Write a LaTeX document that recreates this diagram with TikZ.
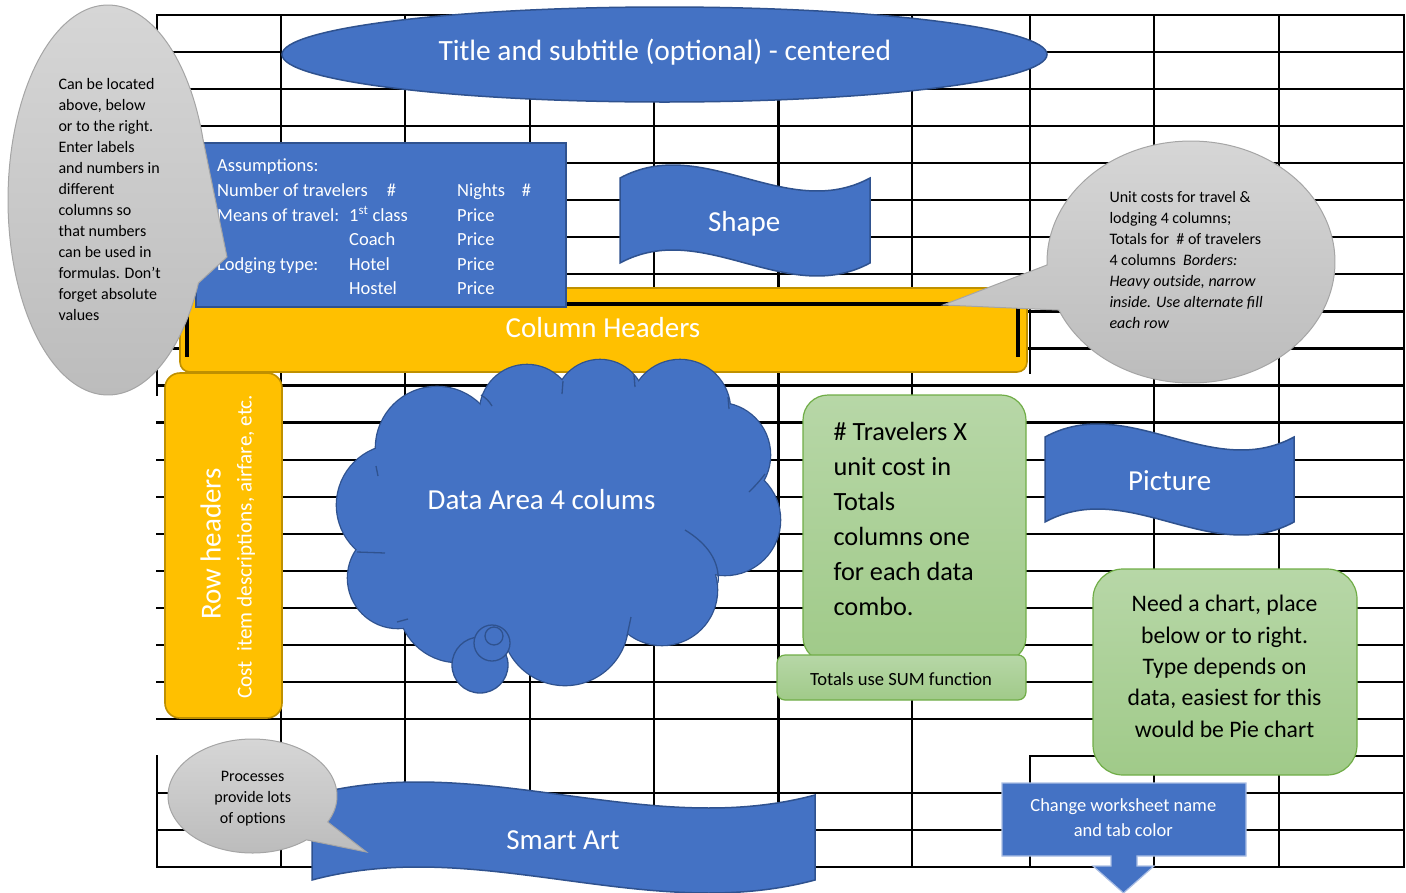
\documentclass[tikz,border=0pt]{standalone}
\usepackage{fontspec}
\setmainfont{Carlito}
\usetikzlibrary{shapes.geometric}
\definecolor{oblue}{RGB}{68,114,196}
\definecolor{oblueD}{RGB}{47,82,143}
\definecolor{oblueL}{RGB}{170,190,228}
\definecolor{oyel}{RGB}{255,192,0}
\definecolor{oyelD}{RGB}{191,144,0}
\definecolor{ogrT}{RGB}{183,215,167}
\definecolor{ogrB}{RGB}{160,202,137}
\definecolor{ogrD}{RGB}{112,173,71}
\definecolor{ogyT}{RGB}{214,214,214}
\definecolor{ogyB}{RGB}{188,188,188}
\definecolor{ogyD}{RGB}{165,165,165}
\newcommand{\fs}[2]{\fontsize{#1}{#2}\selectfont}
\begin{document}
\begin{tikzpicture}[x=1pt,y=-1pt,
  gridline/.style={line width=2.2pt, black, line cap=rect},
  bluefill/.style={fill=oblue, draw=oblueD, line width=1.5pt},
  yelbox/.style={fill=oyel, draw=oyelD, line width=1.6pt},
  greenbox/.style={top color=ogrT, bottom color=ogrB, draw=ogrD, line width=1.2pt},
  greycall/.style={top color=ogyT, bottom color=ogyB, draw=ogyD, line width=1pt},
  lbl/.style={inner sep=0pt, anchor=base},
  lblw/.style={inner sep=0pt, anchor=base west, text=white, font=\fs{18.5}{24.5}},
  biglbl/.style={lbl, text=white, font=\fs{29}{35}}]
\useasboundingbox (0,0) rectangle (1406,892);
% ---------- spreadsheet grid ----------
\foreach \k in {0,...,19,21,22,23}
  \draw[gridline] (157,{15+37.05*\k}) -- (1404,{15+37.05*\k});
\draw[gridline] (1030,756) -- (1404,756);
\foreach \x in {281,405,530,654,778.5,912,1154,1279,1404}
  \draw[gridline] (\x,15) -- (\x,867.2);
\draw[gridline] (157,15) -- (157,395);
\draw[gridline] (157,756) -- (157,867.2);
\draw[gridline] (1030,15) -- (1030,373);
\draw[gridline] (1030,756) -- (1030,867.2);
% ---------- title ----------
\node[ellipse, bluefill, minimum width=765pt, minimum height=95pt, inner sep=0pt] (title) at (664.5,54.5) {};
\node[lbl, text=white, font=\fs{29.4}{35}] (titleT) at (664.8,60.7) {Title and subtitle (optional) - centered};
% ---------- column headers bar ----------
\draw[yelbox, rounded corners=10pt] (180,288) rectangle (1027,372);
\coordinate (barTL) at (565,304);
\coordinate (barTR) at (1018,304);
\draw[line width=4.5pt] (barTL) -- (barTR) -- (1018,357);
\draw[line width=4pt] (187,306) -- (187,357);
\node[biglbl] (colh) at (603,337.3) {Column Headers};
% ---------- assumptions box ----------
\node[bluefill, minimum width=370pt, minimum height=164pt, inner sep=0pt, anchor=north west] (assum) at (195,142) {};
\node[lblw] (a1) at (217,171) {Assumptions:};
\node[lblw] (a2) at (217,196) {Number of travelers};
\node[lblw] (a2b) at (386.7,196) {\#};
\node[lblw] (a2c) at (457,196) {Nights};
\node[lblw] (a2d) at (521.7,196) {\#};
\node[lblw] (a3) at (217,221) {Means of travel:};
\node[lblw] (a3b) at (349,221) {1\textsuperscript{st} class};
\node[lblw] (a3c) at (457,221) {Price};
\node[lblw] (a4b) at (349,245) {Coach};
\node[lblw] (a4c) at (457,245) {Price};
\node[lblw] (a5) at (217,270) {Lodging type:};
\node[lblw] (a5b) at (349,270) {Hotel};
\node[lblw] (a5c) at (457,270) {Price};
\node[lblw] (a6b) at (349,294) {Hostel};
\node[lblw] (a6c) at (457,294) {Price};
% ---------- left callout ----------
\coordinate (lctip) at (227,257);
\draw[greycall] (lctip) -- plot[domain=25.2:342.1, samples=140] ({108+100*cos(\x)},{200+195*sin(\x)}) -- cycle;
\node[inner sep=0pt, anchor=base west] (lctext) at (58.3,89.3) {\parbox[t]{150pt}{\raggedright\fs{16}{21}Can be located\\above, below\\or to the right.\\Enter labels\\and numbers in\\different\\columns so\\that numbers\\can be used in\\formulas. Don’t\\forget absolute\\values}};
% ---------- shape banner ----------
\draw[bluefill] (620,178) .. controls (703.3,133) and (786.7,223) .. (870,178) -- (870,263) .. controls (786.7,308) and (703.3,218) .. (620,263) -- cycle;
\node[biglbl] (shapeT) at (744.2,231.7) {Shape};
% ---------- right callout ----------
\coordinate (rctip) at (943,305);
\draw[greycall] (rctip) -- plot[domain=178.6:516.6, samples=160] ({1191+144*cos(\x)},{262+121*sin(\x)}) -- cycle;
\node[inner sep=0pt, anchor=base west] (rctext) at (1109.3,202.7) {\parbox[t]{200pt}{\raggedright\fs{16}{20.9}Unit costs for travel \&\\lodging 4 columns;\\Totals for\ \ \# of travelers\\4 columns\ \ {\itshape Borders:}\\{\itshape Heavy outside, narrow}\\{\itshape inside. Use alternate fill}\\{\itshape each row}}};
% ---------- row headers ----------
\draw[yelbox, rounded corners=15pt] (165,373) rectangle (282,718);
\node[lbl, rotate=90, text=white, font=\fs{29}{35}] (rh1) at (220.5,544) {Row headers};
\node[lbl, rotate=90, text=white, font=\fs{21.2}{25}] (rh2) at (251.5,546.7) {Cost\ \ item descriptions, airfare, etc.};
% ---------- cloud ----------
\foreach \cx/\cy/\r in {437/448/61, 527/412/47, 600/405/45, 680/410/50, 718/455/52, 725/520/55, 662/590/55, 565/622/63, 458/602/60, 398/578/50, 397/505/60}
  \draw[draw=oblueD, line width=2.6pt, fill=oblue] (\cx,\cy) circle [radius=\r];
\foreach \cx/\cy/\r in {437/448/61, 527/412/47, 600/405/45, 680/410/50, 718/455/52, 725/520/55, 662/590/55, 565/622/63, 458/602/60, 398/578/50, 397/505/60}
  \fill[oblue] (\cx,\cy) circle [radius=\r];
\fill[oblue] (560,510) ellipse [x radius=170, y radius=110];
\begin{scope}[draw=oblueD, line width=1.3pt]
\draw (481,395) .. controls (486,398) and (489,401) .. (492,406);
\draw (563,381) -- (562,394);
\draw (634,375) -- (635,387);
\draw (728,397) -- (729,409);
\draw (765,474) .. controls (759,482) and (754,487) .. (749,492);
\draw (685,530) .. controls (708,544) and (720,562) .. (718,583);
\draw (631,617) -- (627,636);
\draw (397,622) -- (408,619);
\draw (357,552) -- (385,553);
\draw (376,466) -- (378,476);
\end{scope}
\draw[bluefill, line width=1.3pt] (480,665) ellipse [x radius=28, y radius=28];
\draw[bluefill, line width=1.3pt] (492,643) circle [radius=18];
\draw[bluefill, line width=1.3pt] (494,636) circle [radius=9];
\node[biglbl] (dataT) at (541.5,509.3) {Data Area 4 colums};
% ---------- green boxes ----------
\draw[greenbox, rounded corners=25pt] (803,395) rectangle (1026,662);
\node[inner sep=0pt, anchor=base west] (g1text) at (833.3,440.7) {\parbox[t]{190pt}{\raggedright\fs{26.3}{34.9}\#~Travelers X\\unit cost in\\Totals\\columns one\\for each data\\combo.}};
\draw[greenbox, rounded corners=8pt] (777,655) rectangle (1026,700);
\node[lbl, font=\fs{18.6}{22}] (g2text) at (901,685) {Totals use SUM function};
\draw[greenbox, rounded corners=30pt] (1093,569) rectangle (1357,775);
\node[lbl] (g3text) at (1224.6,611.7) {\parbox[t]{260pt}{\centering\fs{23.7}{31.4}Need a chart, place\\below or to right.\\Type depends on\\data, easiest for this\\would be Pie chart}};
% ---------- picture banner ----------
\draw[bluefill] (1045,437) .. controls (1128,392) and (1211,482) .. (1294,437) -- (1294,522) .. controls (1211,567) and (1128,477) .. (1045,522) -- cycle;
\node[biglbl] (picT) at (1169.7,490) {Picture};
% ---------- down arrow callout ----------
\draw[fill=oblue, draw=oblueL, line width=1.2pt] (1002,783) -- (1246,783) -- (1246,856) -- (1137,856) -- (1137,866) -- (1154,866) -- (1123.5,893) -- (1093,866) -- (1111,866) -- (1111,856) -- (1002,856) -- cycle;
\node[lbl, text=white] (arrT) at (1123.3,811.7) {\parbox[t]{240pt}{\centering\fs{18.5}{25}Change worksheet name\\and tab color}};
% ---------- smart art banner ----------
\draw[bluefill] (312,795) .. controls (479.7,750) and (647.3,840) .. (815,795) -- (815,880) .. controls (647.3,925) and (479.7,835) .. (312,880) -- cycle;
\node[biglbl] (smartT) at (563,849.3) {Smart Art};
% ---------- bottom callout ----------
\coordinate (bctip) at (366.5,852);
\draw[greycall] (bctip) -- plot[domain=50.3:387.1, samples=120] ({252.5+84.5*cos(\x)},{796+57*sin(\x)}) -- cycle;
\node[lbl] (bctext) at (252.7,781.7) {\parbox[t]{110pt}{\centering\fs{16}{21}Processes\\provide lots\\of options}};
\end{tikzpicture}
\end{document}
